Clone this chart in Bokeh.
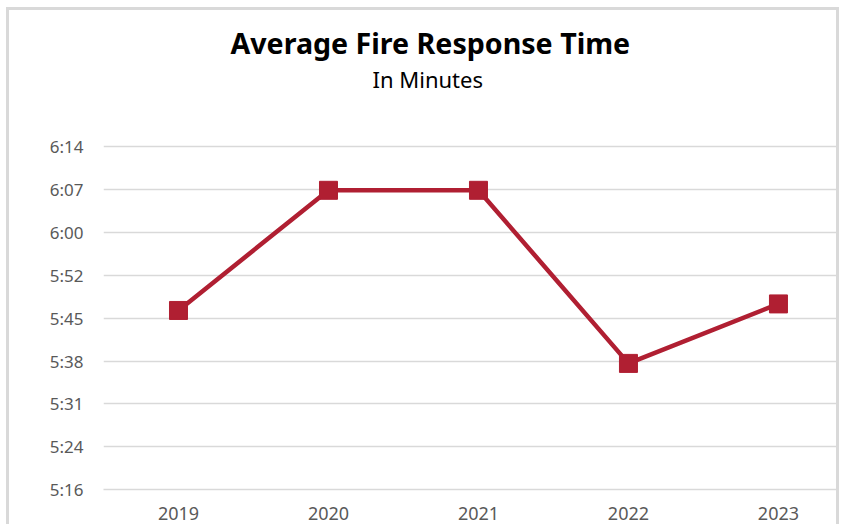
from bokeh.plotting import figure
from bokeh.models import Range1d, FixedTicker, Title, ColumnDataSource
from bokeh.embed import file_html
from bokeh.resources import INLINE

# ---- data ----
years = ["2019", "2020", "2021", "2022", "2023"]
year_pos = [0.5, 1.5, 2.5, 3.5, 4.5]
response_seconds = [346.5, 366.7, 366.7, 337.6, 347.6]   # average response time in seconds
tick_values = [316.4, 323.6, 330.8, 338.0, 345.2, 352.4, 359.6, 366.8, 374.0]
tick_labels = ["5:16", "5:24", "5:31", "5:38", "5:45", "5:52", "6:00", "6:07", "6:14"]
title_text = "Average Fire Response Time"
subtitle_text = "In Minutes"

FONT = "Noto Sans"
RED = "#B01F32"
GRID = "#D9D9D9"
LABEL = "#595959"

W, H = 833, 517
p = figure(width=W, height=H, output_backend="svg", toolbar_location=None,
           x_range=Range1d(0, 4.927), y_range=Range1d(316.4, 374.4),
           min_border_left=94, min_border_right=0, min_border_top=134, min_border_bottom=38)
p.styles = {"margin-left": "6px", "margin-top": "7px",
            "border-top": "3px solid #D9D9D9", "border-left": "3px solid #D9D9D9",
            "border-right": "3px solid #D9D9D9"}
p.outline_line_color = None
p.background_fill_color = "white"
p.border_fill_color = "white"

src = ColumnDataSource(dict(x=year_pos, y=response_seconds))
p.line("x", "y", source=src, line_color=RED, line_width=4.5)
p.scatter("x", "y", source=src, marker="square", size=18, fill_color=RED, line_color=RED)

p.xaxis.ticker = FixedTicker(ticks=year_pos)
p.xaxis.major_label_overrides = {pos: yr for pos, yr in zip(year_pos, years)}
p.yaxis.ticker = FixedTicker(ticks=tick_values)
p.yaxis.major_label_overrides = {v: l for v, l in zip(tick_values, tick_labels)}

for ax in (p.xaxis, p.yaxis):
    ax.major_tick_line_color = None
    ax.minor_tick_line_color = None
    ax.major_tick_out = 0
    ax.major_tick_in = 0
    ax.major_label_text_font = FONT
    ax.major_label_text_color = LABEL
p.yaxis.major_label_text_font_size = "17px"
p.xaxis.major_label_text_font_size = "18px"
p.yaxis.axis_line_color = None
p.yaxis.major_label_standoff = 20
p.xaxis.axis_line_color = GRID
p.xaxis.axis_line_width = 1.5
p.xaxis.major_label_standoff = 17

p.xgrid.grid_line_color = None
p.ygrid.grid_line_color = GRID
p.ygrid.grid_line_width = 1.5

# titles stacked above the frame (first added is nearest the frame)
p.add_layout(Title(text=" ", text_font=FONT, text_font_size="36px", standoff=0), "above")
p.add_layout(Title(text=subtitle_text, text_font=FONT, text_font_size="22px",
                   text_font_style="normal", text_color="black", align="left",
                   offset=269, standoff=0), "above")
p.add_layout(Title(text=title_text, text_font=FONT, text_font_size="28.6px",
                   text_font_style="bold", text_color="black", align="left",
                   offset=127, standoff=0), "above")

open("out.html", "w").write(file_html(p, INLINE))
